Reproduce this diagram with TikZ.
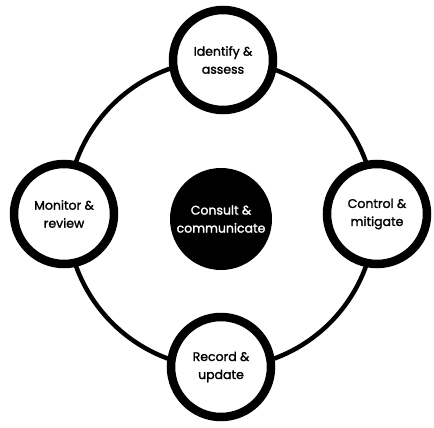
\documentclass[tikz,border=0pt]{standalone}
\usepackage{fontspec}
\setmainfont{Poppins}
\newfontfamily\stagefont{Poppins}[FakeBold=1.6]
\tikzset{
    stage/.style={circle, draw=black, line width=8.5pt, fill=white, minimum size=100pt, inner sep=0pt, align=center, font=\stagefont\fontsize{12.5}{18}\selectfont},
    hub/.style={circle, fill=black, text=white, minimum size=102pt, inner sep=0pt, align=center, font=\stagefont\fontsize{12.5}{18}\selectfont}
}
\begin{document}
\begin{tikzpicture}[x=1pt, y=-1pt]
        \useasboundingbox (0,0) rectangle (434,428);
        \draw[black, line width=4.5pt] (221,214) circle (154);
        \node[hub] (consult) at (221,219) {Consult \&\\communicate};
        \node[stage] (identify) at (223,60) {Identify \&\\assess};
        \node[stage] (control) at (377,214) {Control \&\\mitigate};
        \node[stage] (record) at (221,367) {Record \&\\update};
        \node[stage] (monitor) at (64,214) {Monitor \&\\review};
    \end{tikzpicture}
\end{document}
